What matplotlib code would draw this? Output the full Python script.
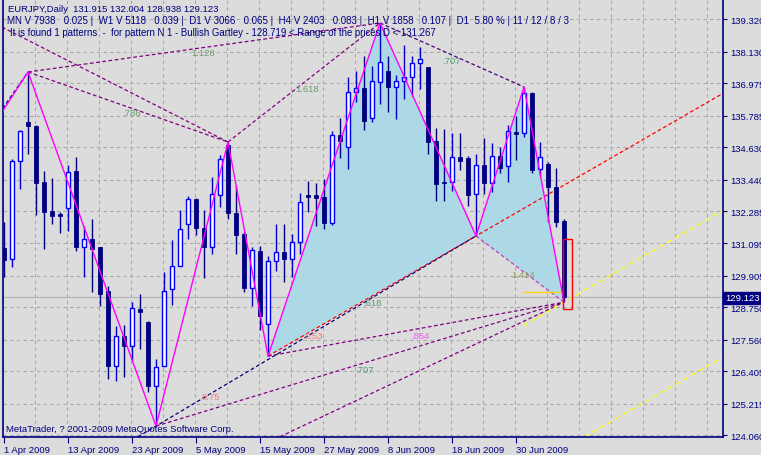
import numpy as np
import matplotlib
matplotlib.use('Agg')
import matplotlib.pyplot as plt
from matplotlib.patches import Rectangle, Polygon

plt.rcParams['font.family'] = ['Liberation Sans', 'DejaVu Sans']

# ---------------- data ----------------
opens = [130.93, 130.52, 134.12, 135.56, 135.41, 133.35, 132.29, 132.18, 132.40, 133.76,
         130.97, 131.26, 130.97, 129.35, 126.59, 127.70, 127.33, 128.69, 128.21, 125.86,
         126.59, 129.42, 130.27, 131.81, 132.73, 131.66, 130.97, 132.89, 134.71, 132.21,
         131.44, 129.46, 130.82, 128.14, 130.45, 130.78, 130.52, 131.15, 132.87, 132.87,
         132.80, 131.85, 135.08, 134.64, 136.66, 136.81, 135.70, 137.03, 137.43, 136.84,
         137.06, 137.21, 137.72, 137.57, 134.86, 133.35, 133.35, 134.27, 134.23, 132.91,
         133.98, 133.32, 134.31, 133.94, 135.19, 135.15, 136.62, 133.83, 134.01, 133.17,
         131.915]
highs = [131.88, 134.20, 135.26, 137.39, 135.45, 133.76, 133.50, 132.26, 133.99, 134.28,
         131.74, 132.00, 130.97, 129.54, 128.07, 128.10, 128.96, 129.24, 128.25, 126.85,
         130.05, 131.22, 132.32, 132.84, 132.77, 132.32, 133.54, 134.36, 134.82, 133.21,
         131.52, 130.97, 131.00, 130.63, 131.81, 131.81, 131.44, 132.95, 133.39, 133.32,
         133.46, 135.23, 135.70, 137.21, 137.43, 137.99, 137.61, 139.19, 137.99, 137.28,
         138.38, 137.99, 138.31, 137.57, 135.34, 135.30, 135.15, 135.15, 134.31, 134.38,
         134.97, 134.79, 134.64, 135.45, 135.78, 136.84, 136.66, 134.82, 134.09, 133.87,
         132.004]
lows = [129.86, 130.22, 133.10, 134.38, 132.14, 130.89, 131.81, 131.48, 131.55, 130.82,
        129.88, 129.31, 128.80, 126.12, 126.03, 126.19, 126.78, 127.22, 125.64, 124.39,
        126.59, 128.83, 130.27, 131.26, 131.40, 129.83, 130.71, 132.43, 132.00, 130.71,
        129.31, 128.80, 127.92, 126.96, 130.09, 129.68, 129.86, 130.71, 132.25, 131.74,
        131.63, 131.77, 134.23, 133.83, 136.29, 135.26, 135.56, 136.22, 135.93, 135.66,
        136.40, 136.51, 136.77, 134.38, 132.65, 132.65, 133.02, 133.80, 132.47, 131.37,
        132.91, 132.99, 133.68, 133.35, 134.16, 135.00, 133.68, 133.57, 131.88, 131.70,
        128.938]
closes = [130.49, 134.12, 135.23, 135.41, 133.32, 132.25, 132.10, 132.12, 133.72, 130.97,
          131.26, 130.89, 129.24, 126.59, 127.70, 127.33, 128.72, 128.58, 125.86, 126.56,
          129.36, 130.27, 131.63, 132.73, 131.66, 130.97, 132.91, 134.20, 132.21, 131.41,
          129.46, 130.86, 128.43, 130.45, 130.78, 130.52, 131.15, 132.62, 132.80, 132.76,
          131.85, 135.08, 134.86, 136.66, 136.81, 135.60, 137.06, 137.76, 136.84, 137.06,
          137.21, 137.72, 137.85, 134.82, 133.28, 133.32, 134.27, 134.12, 132.87, 133.98,
          133.32, 134.31, 133.87, 135.23, 135.12, 136.62, 133.79, 134.27, 133.17, 131.88,
          129.123]

x_tick_pos = [0, 8, 16, 24, 32, 40, 48, 56, 64]
x_tick_labels = ['1 Apr 2009', '13 Apr 2009', '23 Apr 2009', '5 May 2009', '15 May 2009',
                 '27 May 2009', '8 Jun 2009', '18 Jun 2009', '30 Jun 2009']
y_ticks = [139.320, 138.130, 136.975, 135.785, 134.630, 133.440, 132.285, 131.095,
           129.905, 128.750, 127.560, 126.405, 125.215, 124.060]

# zigzag pivots (bar index, 'H' high / 'L' low); first pivot lies off-chart
zz_lead = (-2, 135.12)
zz_idx = [3, 19, 28, 33, 47, 59, 65, 70]
zz_kind = ['H', 'L', 'H', 'L', 'H', 'L', 'H', 'L']

# Gartley points X, A, B, C, D (bar indices)
pat_X, pat_A, pat_B, pat_C, pat_D = 33, 47, 59, 65, 70

# off-chart anchor points of older fibo lines (bar index, price)
old_anchor_1 = (-0.25, 139.04)
old_anchor_2 = (-1.0, 135.70)
low_anchor = (34.5, 124.00)

last_price = 129.123
range_box = (128.68, 131.26)          # red box: price range for D
yellow_level = 129.31                 # short yellow level

fib_labels = ['1.128', '.786', '1.618', '.707', '.618', '0.53', '.854', '.707', '0.75', '1.414']
fib_label_pos = [(24.9, 138.09), (15.9, 135.89), (37.9, 136.80), (55.9, 137.80),
                 (46.0, 128.94), (38.75, 127.70), (52.0, 127.73), (45.0, 126.45),
                 (25.9, 125.46), (64.9, 129.94)]
fib_label_col = ['#6a9f70', '#6a9f70', '#6a9f70', '#4f9f70', '#4f9f70', '#f08070',
                 '#ff55ff', '#4f9f70', '#f08070', '#8a9f60']

# ---------------- figure ----------------
BG = '#DCDCDC'
NAVY = '#000080'
FS = 6.8
fig = plt.figure(figsize=(7.61, 4.56), dpi=100, facecolor=BG)
W, H = 761, 456
ax = fig.add_axes([3 / W, (H - 438) / H, 720 / W, 438 / H])
ax.set_facecolor(BG)
ax.set_xlim(-0.125, 89.875)
ax.set_ylim(123.99, 140.07)

pt = {}
for i, k in zip(zz_idx, zz_kind):
    pt[i] = highs[i] if k == 'H' else lows[i]

def P(i):
    return (i, pt[i])

# grid
for yv in y_ticks:
    ax.axhline(yv, color='#A8A8A8', lw=0.8, ls=(0, (3, 3)), zorder=0.6)
for xv in range(0, 90, 4):
    ax.axvline(xv - 0.125, color='#A8A8A8', lw=0.8, ls=(0, (3, 3)), zorder=0.6)

# pattern fills
Xp, Ap, Bp, Cp, Dp = P(pat_X), P(pat_A), P(pat_B), P(pat_C), P(pat_D)
ax.add_patch(Polygon([Xp, Ap, Bp], closed=True, facecolor='#ADD8E6', edgecolor='none', zorder=0.8))
ax.add_patch(Polygon([Bp, Cp, Dp], closed=True, facecolor='#ADD8E6', edgecolor='none', zorder=0.8))

xmin, xmax = ax.get_xlim()

def line(p1, p2, color, ext_left=False, ext_right=False, ls=(0, (3, 2)), lw=0.9, z=2):
    (x1, y1), (x2, y2) = p1, p2
    s = (y2 - y1) / (x2 - x1)
    xa = xmin - 1 if ext_left else x1
    xb = xmax + 1 if ext_right else x2
    ax.plot([xa, xb], [y1 + s * (xa - x1), y1 + s * (xb - x1)], color=color, lw=lw, ls=ls, zorder=z)

PURPLE = '#800080'
line(P(3), Ap, PURPLE)
line(P(28), Ap, PURPLE)
line(Ap, Cp, '#4B0082')
line(Xp, Bp, '#FF0000', ext_right=True)
line((19, lows[19]), Bp, NAVY, ext_left=True, z=2.1)
line(Bp, Dp, '#C040C0')
line(Xp, Dp, PURPLE)
line((19, lows[19]), Dp, PURPLE)
line(low_anchor, Dp, PURPLE)
line(old_anchor_1, P(28), PURPLE)
line(P(3), P(28), PURPLE)
line(old_anchor_2, P(3), NAVY)
# yellow lines (parallel to X-B)
sXB = (Bp[1] - Xp[1]) / (Bp[0] - Xp[0])
ax.plot([64.9, xmax], [Dp[1] + sXB * (64.9 - 70), Dp[1] + sXB * (xmax - 70)],
        color='#FFFF00', lw=0.9, ls=(0, (4, 3)), zorder=2)
ax.plot([72.6, xmax], [124.0, 124.0 + sXB * (xmax - 72.6)],
        color='#FFFF00', lw=0.9, ls=(0, (4, 3)), zorder=2)
ax.plot([64.9, 69.6], [yellow_level, yellow_level], color='#FFD700', lw=0.9, zorder=2)

# current price line
ax.axhline(last_price, color='#B4B4B4', lw=0.9, zorder=0.7)

# candles
bw = 0.6
for i in range(len(opens)):
    o, h, l, c = opens[i], highs[i], lows[i], closes[i]
    bull = c >= o
    ax.plot([i, i], [l, h], color='#0000CD' if bull else NAVY, lw=1.0, zorder=3,
            solid_capstyle='butt')
    lo, hi = min(o, c), max(o, c)
    if bull:
        ax.add_patch(Rectangle((i - bw / 2, lo), bw, max(hi - lo, 0.02), facecolor='#FAFAFF',
                               edgecolor='#0000FF', lw=1.0, zorder=3.2))
    else:
        ax.add_patch(Rectangle((i - bw / 2, lo), bw, max(hi - lo, 0.04), facecolor=NAVY,
                               edgecolor=NAVY, lw=0.6, zorder=3.2))

# zigzag
zx = [zz_lead[0]] + zz_idx
zy = [zz_lead[1]] + [pt[i] for i in zz_idx]
ax.plot(zx, zy, color='#FF00FF', lw=1.0, zorder=4)

# red range box
ax.add_patch(Rectangle((69.9, range_box[0]), 1.05, range_box[1] - range_box[0],
                       facecolor='none', edgecolor='#FF0000', lw=1.0, zorder=4))

# fib labels
for t, (lx, ly), col in zip(fib_labels, fib_label_pos, fib_label_col):
    ax.text(lx, ly, t, color=col, fontsize=FS, ha='center', va='center', zorder=5)

# axes style
ax.spines['top'].set_visible(False)
for s in ['left', 'bottom', 'right']:
    ax.spines[s].set_color(NAVY)
    ax.spines[s].set_linewidth(1.2)
ax.yaxis.tick_right()
ax.set_yticks(y_ticks)
ax.set_yticklabels(['%.3f' % v for v in y_ticks], color=NAVY, fontsize=FS)
ax.tick_params(axis='y', colors=NAVY, length=3, width=0.8, pad=2, labelcolor=NAVY)
ax.set_xticks(x_tick_pos)
ax.set_xticklabels(x_tick_labels, color=NAVY, fontsize=FS, ha='left')
ax.tick_params(axis='x', colors=NAVY, length=4, width=0.8, pad=2, labelcolor=NAVY)

# current price tag
fig.text(725 / W, 1 - 299 / H, '129.123', color='white', fontsize=FS, va='center', ha='left',
         bbox=dict(boxstyle='square,pad=0.2', facecolor=NAVY, edgecolor=NAVY))

# header texts
fig.text(8 / W, 1 - 10 / H, 'EURJPY,Daily  131.915 132.004 128.938 129.123', color=NAVY,
         fontsize=FS, va='center', ha='left')
fig.text(7 / W, 1 - 21 / H, 'MN V 7938   0.025 |  W1 V 5118   0.039 |  D1 V 3066   0.065 |  '
         'H4 V 2403   0.083 |  H1 V 1858   0.107 |  D1  5.80 % | 11 / 12 / 8 / 3',
         color=NAVY, fontsize=7.05, va='center', ha='left')
fig.text(10 / W, 1 - 33 / H, 'It is found 1 patterns  -  for pattern N 1 - Bullish Gartley - '
         '128.719 < Range of the prices D < 131.267', color=NAVY, fontsize=6.9,
         va='center', ha='left')
fig.text(6 / W, 1 - 430 / H, 'MetaTrader, ? 2001-2009 MetaQuotes Software Corp.', color=NAVY,
         fontsize=FS, va='center', ha='left')

fig.savefig('out.png', dpi=100, facecolor=BG)
